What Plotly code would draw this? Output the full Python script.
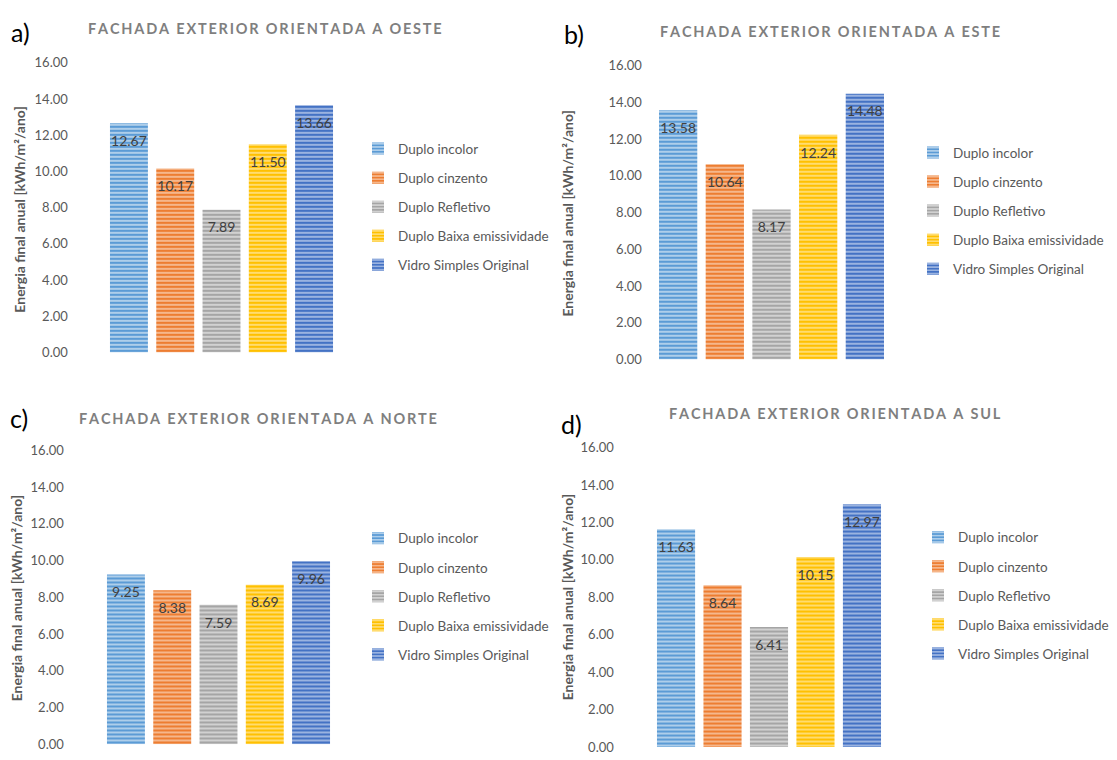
import plotly.graph_objects as go

# Vidros comparados (séries) e respetivas cores
series = ["Duplo incolor", "Duplo cinzento", "Duplo Refletivo",
          "Duplo Baixa emissividade", "Vidro Simples Original"]
colors = ["#5B9BD5", "#ED7D31", "#A5A5A5", "#FFC000", "#4472C4"]
stripe = ["#D6E6F5", "#FAD3B8", "#E6E6E6", "#FFEAA6", "#C3D2EE"]

# Energia final anual [kWh/m²/ano] por orientação da fachada
oeste = [12.67, 10.17, 7.89, 11.50, 13.66]
este = [13.58, 10.64, 8.17, 12.24, 14.48]
norte = [9.25, 8.38, 7.59, 8.69, 9.96]
sul = [11.63, 8.64, 6.41, 10.15, 12.97]

titles = ["FACHADA EXTERIOR ORIENTADA A OESTE", "FACHADA EXTERIOR ORIENTADA A ESTE",
          "FACHADA EXTERIOR ORIENTADA A NORTE", "FACHADA EXTERIOR ORIENTADA A SUL"]
letters = ["a)", "b)", "c)", "d)"]
y_ticks = [0, 2, 4, 6, 8, 10, 12, 14, 16]
ytitle = "Energia final anual [kWh/m²/ano]"

W, H = 1117, 760
FONT = "Lato"

# Layout de cada painel (em píxeis)
panels = [
    dict(data=oeste, x0=105.8, x1=337.2, ybot=352, ytop=56, standoff=37,
         title_xy=(265, 21), letter_xy=(20, 25), ytitle_xy=(20, 206), leg_xy=(358, 140)),
    dict(data=este, x0=654.8, x1=888.2, ybot=359, ytop=59, standoff=12,
         title_xy=(830, 24), letter_xy=(574, 27), ytitle_xy=(568, 210), leg_xy=(913, 144)),
    dict(data=norte, x0=102.8, x1=334.2, ybot=752, ytop=452, standoff=38,
         title_xy=(258, 419), letter_xy=(19, 419), ytitle_xy=(16, 603), leg_xy=(358, 538)),
    dict(data=sul, x0=652.8, x1=885.2, ybot=755, ytop=449, standoff=38,
         title_xy=(835, 414), letter_xy=(571, 425), ytitle_xy=(567, 602), leg_xy=(918, 537)),
]


def spaced(s):
    return "\u2009".join(s)


fig = go.Figure()
layout = dict(width=W, height=H, margin=dict(l=0, r=0, t=0, b=0),
              paper_bgcolor="white", plot_bgcolor="white",
              barmode="group", bargap=0, bargroupgap=0.18,
              scattermode="group", scattergap=0,
              font=dict(family=FONT, color="#595959"), annotations=[])

for i, p in enumerate(panels):
    n = "" if i == 0 else str(i + 1)
    legname = "legend" + n
    for k, s in enumerate(series):
        v = p["data"][k]
        fig.add_trace(go.Bar(
            x=["Fachada"], y=[v], name=s, xaxis="x" + n, yaxis="y" + n,
            legend=legname, legendgroup=s + n,
            offsetgroup=str(k), alignmentgroup="g" + n,
            marker=dict(color=colors[k], line=dict(width=0),
                        pattern=dict(shape="-", fgcolor=stripe[k], bgcolor=colors[k],
                                     size=4, solidity=0.4, fgopacity=0.85,
                                     fillmode="overlay")),
            hoverinfo="skip",
        ))
    # rótulos de valor, logo abaixo do topo de cada barra
    for k, s in enumerate(series):
        v = p["data"][k]
        fig.add_trace(go.Scatter(
            x=["Fachada"], y=[v], mode="markers+text", xaxis="x" + n, yaxis="y" + n,
            offsetgroup=str(k), alignmentgroup="g" + n, showlegend=False,
            marker=dict(size=18, opacity=0), text=[f"{v:.2f}"],
            textposition="bottom center", cliponaxis=False,
            textfont=dict(family=FONT, size=14, color="#404040"),
            hoverinfo="skip",
        ))
    layout["xaxis" + n] = dict(domain=[p["x0"] / W, p["x1"] / W], anchor="y" + n,
                               showticklabels=False, showgrid=False, zeroline=False,
                               showline=False, fixedrange=True)
    layout["yaxis" + n] = dict(domain=[1 - p["ybot"] / H, 1 - p["ytop"] / H],
                               anchor="x" + n, range=[0, 16], tickvals=y_ticks,
                               tickformat=".2f", showgrid=False, zeroline=False,
                               showline=False, ticks="", ticklabelstandoff=p["standoff"],
                               tickfont=dict(family=FONT, size=13, color="#595959"))
    lx, ly = p["leg_xy"]
    layout[legname] = dict(x=lx / W, y=1 - (ly - 12) / H, xanchor="left", yanchor="top",
                           bgcolor="rgba(0,0,0,0)", tracegroupgap=8.5,
                           font=dict(family=FONT, size=13.5, color="#595959"))
    tx, ty = p["title_xy"]
    layout["annotations"].append(dict(
        x=tx / W, y=1 - ty / H, xref="paper", yref="paper", showarrow=False,
        text=spaced(titles[i]), xanchor="center", yanchor="middle",
        font=dict(family=FONT, size=14.5, color="#7F7F7F", weight="bold")))
    lx2, ly2 = p["letter_xy"]
    layout["annotations"].append(dict(
        x=lx2 / W, y=1 - ly2 / H, xref="paper", yref="paper", showarrow=False,
        text=letters[i], xanchor="center", yanchor="middle",
        font=dict(family=FONT, size=25, color="black")))
    yx, yy = p["ytitle_xy"]
    layout["annotations"].append(dict(
        x=yx / W, y=1 - yy / H, xref="paper", yref="paper", showarrow=False,
        text=ytitle, textangle=-90, xanchor="center", yanchor="middle",
        font=dict(family=FONT, size=14, color="#595959", weight="bold")))

fig.update_layout(**layout)
fig.write_html("out.html")
